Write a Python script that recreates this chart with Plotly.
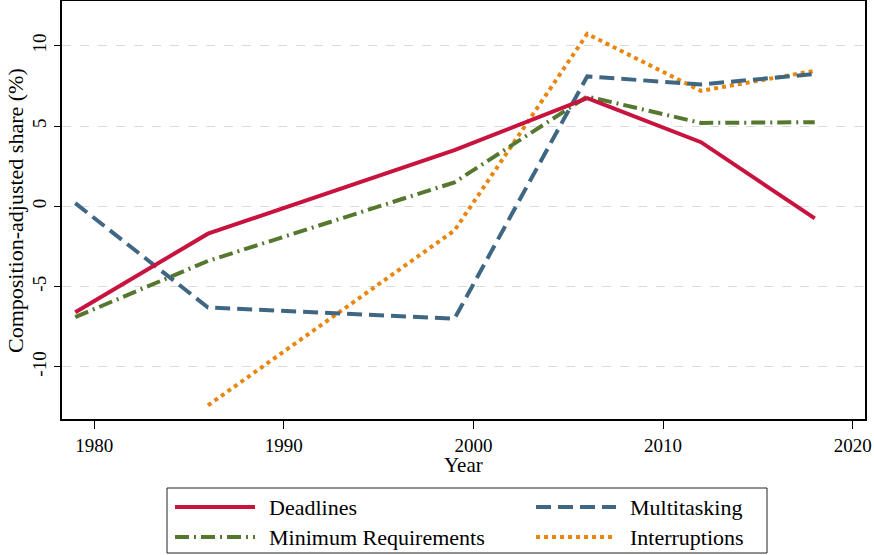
import plotly.graph_objects as go

# ---- data ----
years = [1979, 1986, 1999, 2006, 2012, 2018]
deadlines = [-6.6, -1.7, 3.5, 6.75, 4.0, -0.75]
multitasking = [0.2, -6.3, -7.0, 8.1, 7.6, 8.25]
min_requirements = [-6.9, -3.4, 1.5, 6.85, 5.2, 5.25]
interruptions = [None, -12.4, -1.5, 10.75, 7.2, 8.45]

series_names = ["Deadlines", "Multitasking", "Minimum Requirements", "Interruptions"]
series_values = [deadlines, multitasking, min_requirements, interruptions]
colors = ["#C8133F", "#3F6683", "#55782E", "#E8860F"]
dashes = ["solid", "15px,7px", "14px,5px,2px,5px", "4px,4px"]

x_ticks = [1980, 1990, 2000, 2010, 2020]
y_ticks = [-10, -5, 0, 5, 10]

FONT = "Liberation Serif"

fig = go.Figure()
order = [3, 2, 1, 0]
for i in order:
    fig.add_trace(go.Scatter(
        x=years, y=series_values[i], name=series_names[i], mode="lines",
        line=dict(color=colors[i], width=4, dash=dashes[i]),
        connectgaps=False, showlegend=False,
    ))

W, H = 874, 555
ml, mr, mt, mb = 62, 9, 1, 136
pw, ph = W - ml - mr, H - mt - mb

def px2x(px):
    return (px - ml) / pw

def py2y(py):
    return (H - mb - py) / ph

shapes = []
annotations = []
# legend box
shapes.append(dict(type="rect", xref="paper", yref="paper",
                   x0=px2x(167), x1=px2x(767), y0=py2y(553), y1=py2y(488),
                   line=dict(color="#222222", width=1), fillcolor="white", layer="above"))
legend_pos = [(175, 507), (536, 507), (175, 537), (536, 537)]
for i, (lx, ly) in enumerate(legend_pos):
    shapes.append(dict(type="line", xref="paper", yref="paper",
                       x0=px2x(lx), x1=px2x(lx + 80), y0=py2y(ly), y1=py2y(ly),
                       line=dict(color=colors[i], width=4, dash=dashes[i]), layer="above"))
    annotations.append(dict(xref="paper", yref="paper", x=px2x(lx + 92), y=py2y(ly),
                            xanchor="left", yanchor="middle", showarrow=False,
                            text=series_names[i], font=dict(family=FONT, size=22, color="black")))

# axis titles as annotations for precise placement
annotations.append(dict(xref="paper", yref="paper", x=px2x(463), y=py2y(465),
                        xanchor="center", yanchor="middle", showarrow=False,
                        text="Year", font=dict(family=FONT, size=21, color="black")))
annotations.append(dict(xref="paper", yref="paper", x=px2x(15), y=py2y(211),
                        xanchor="center", yanchor="middle", showarrow=False, textangle=-90,
                        text="Composition-adjusted share (%)",
                        font=dict(family=FONT, size=22, color="black")))

fig.update_layout(
    width=W, height=H,
    margin=dict(l=ml, r=mr, t=mt, b=mb),
    paper_bgcolor="white", plot_bgcolor="white",
    font=dict(family=FONT, size=19, color="black"),
    showlegend=False,
    shapes=shapes, annotations=annotations,
    xaxis=dict(
        range=[1978.3, 2020.65], tickvals=x_ticks, ticktext=[str(v) for v in x_ticks],
        ticks="outside", ticklen=8, tickwidth=1, tickcolor="black",
        showline=True, linecolor="black", linewidth=2, mirror=True,
        showgrid=False, zeroline=False, automargin=False,
        tickfont=dict(family=FONT, size=19),
    ),
    yaxis=dict(
        range=[-13.25, 12.8], tickvals=y_ticks, ticktext=[str(v) for v in y_ticks],
        ticks="outside", ticklen=6, tickwidth=1, tickcolor="black", tickangle=-90,
        showline=True, linecolor="black", linewidth=2, mirror=True,
        showgrid=True, gridcolor="#DADADA", gridwidth=1, griddash="dash",
        zeroline=False, automargin=False,
        tickfont=dict(family=FONT, size=19),
    ),
)

fig.write_html("out.html", config={"displayModeBar": False},
               post_script=["document.body.style.margin='0px';"])
